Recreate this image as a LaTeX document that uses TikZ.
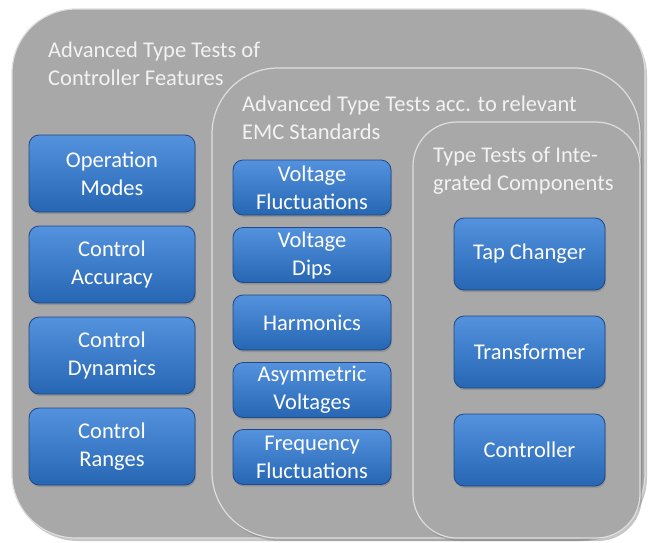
\documentclass[tikz,border=0pt]{standalone}
\usepackage{fontspec}
\setmainfont{Carlito}
\usetikzlibrary{positioning,calc,shadows}
\definecolor{panelgray}{RGB}{168,168,168}
\definecolor{panelrim}{RGB}{222,222,222}
\definecolor{titletext}{RGB}{242,242,242}
\definecolor{btntop}{RGB}{84,146,222}
\definecolor{btnbot}{RGB}{38,102,178}
\definecolor{btnrim}{RGB}{30,72,135}
\tikzset{
  panel/.style={fill=panelgray,draw=panelrim,line width=1.2pt,
    drop shadow={opacity=0.45,shadow xshift=2pt,shadow yshift=-3pt}},
  paneltitle/.style={anchor=north west,inner sep=0pt,align=left,text=titletext,
    font=\fontsize{22.5}{28}\selectfont},
  testbox/.style={rounded corners=10pt,top color=btntop,bottom color=btnbot,
    draw=btnrim,line width=0.8pt,text=white,align=center,
    font=\fontsize{22.5}{28}\selectfont,
    drop shadow={opacity=0.5,shadow xshift=1pt,shadow yshift=-2pt}}
}
\begin{document}
\begin{tikzpicture}[x=1pt,y=-1pt]
\useasboundingbox (0,0) rectangle (651,542);
% three nested panels
\draw[panel,rounded corners=64pt] (12,9) rectangle (645,538);
\draw[panel,rounded corners=66pt] (212,68) rectangle (640,538);
\draw[panel,rounded corners=44pt] (413,122) rectangle (640,538);
\node[paneltitle] (tfeat) at (48,42) {Advanced Type Tests of\\Controller Features};
\node[paneltitle] (temc) at (242,96) {Advanced Type Tests acc. to relevant\\EMC Standards};
\node[paneltitle] (tcomp) at (433,147) {Type Tests of Inte-\\grated Components};
% controller features
\node[testbox,minimum width=166,minimum height=77] (opmodes) at (112,173.5) {Operation\\Modes};
\node[testbox,minimum width=166,minimum height=77] (accuracy) at (112,264.5) {Control\\Accuracy};
\node[testbox,minimum width=166,minimum height=77] (dynamics) at (112,355.5) {Control\\Dynamics};
\node[testbox,minimum width=166,minimum height=77] (ranges) at (112,446.5) {Control\\Ranges};
% EMC standards
\node[testbox,minimum width=158,minimum height=55] (vfluct) at (312,187.5) {Voltage\\Fluctuations};
\node[testbox,minimum width=158,minimum height=55] (vdips) at (312,255) {Voltage\\Dips};
\node[testbox,minimum width=158,minimum height=55] (harm) at (312,322.5) {Harmonics};
\node[testbox,minimum width=158,minimum height=55] (asym) at (312,390) {Asymmetric\\Voltages};
\node[testbox,minimum width=158,minimum height=55] (ffluct) at (312,457) {Frequency\\Fluctuations};
% integrated components
\node[testbox,minimum width=151,minimum height=72] (tapch) at (529.5,254) {Tap Changer};
\node[testbox,minimum width=151,minimum height=72] (trafo) at (529.5,352) {Transformer};
\node[testbox,minimum width=151,minimum height=72] (ctrl) at (529.5,450) {Controller};
\end{tikzpicture}
\end{document}
